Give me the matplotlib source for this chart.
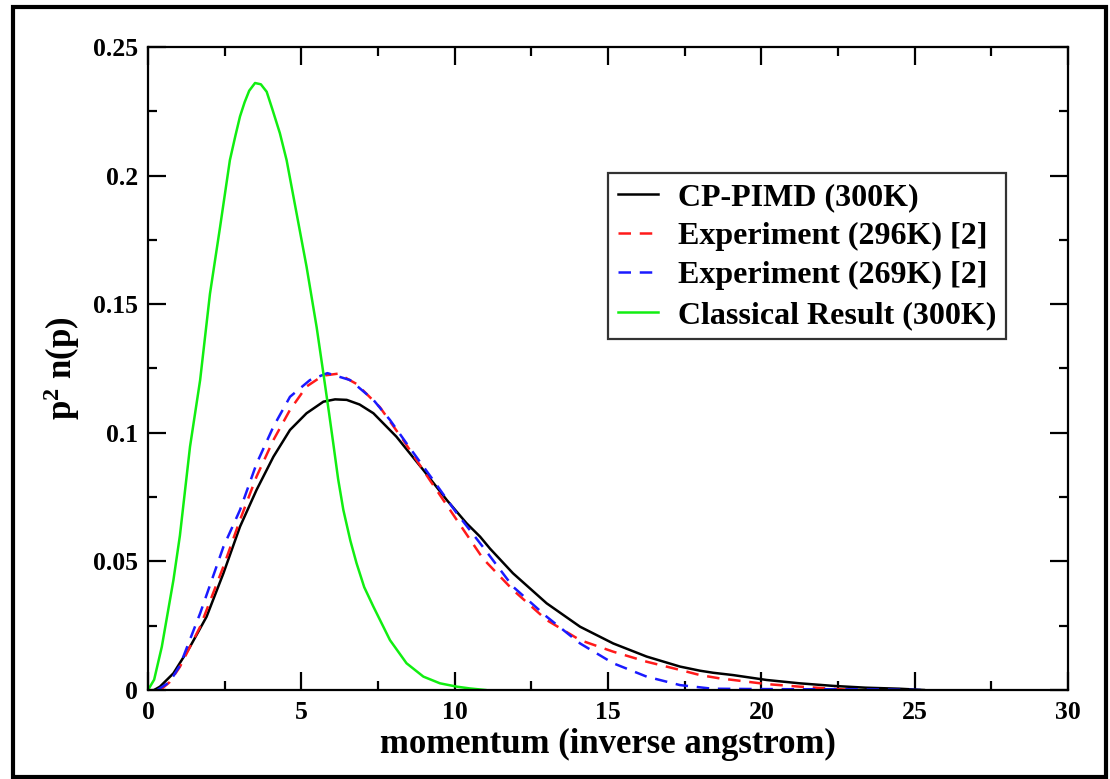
import matplotlib
matplotlib.use("Agg")
import matplotlib.pyplot as plt
from matplotlib.patches import Rectangle
from matplotlib.ticker import MultipleLocator

# ---- data ----
cp_p = [0.2, 0.39, 0.83, 1.37, 1.91, 2.46, 3.0, 3.54, 4.09, 4.63, 5.17, 5.72, 6.1, 6.48, 6.9,
        7.35, 8.1, 8.98, 9.74, 10.39, 10.83, 11.15, 11.9, 13.0, 14.09, 15.17, 16.26, 17.35,
        18.0, 18.43, 19.08, 20.17, 21.25, 22.34, 23.4, 24.5, 25.3]
cp_v = [0.0, 0.0013, 0.0065, 0.0168, 0.0285, 0.0454, 0.0635, 0.0778, 0.0907, 0.1011, 0.1076,
        0.1121, 0.1130, 0.1128, 0.1110, 0.1076, 0.0985, 0.0855, 0.0739, 0.0648, 0.0596, 0.0550,
        0.0454, 0.0337, 0.0246, 0.0181, 0.0130, 0.0091, 0.0075, 0.0067, 0.0058, 0.0039, 0.0026,
        0.0016, 0.0009, 0.0005, 0.0]

e296_p = [0.4, 0.7, 1.04, 1.70, 2.46, 3.0, 3.54, 4.09, 4.63, 5.17, 5.7, 6.2, 6.8, 7.56, 8.32,
          9.19, 10.07, 10.93, 11.9, 13.0, 14.09, 15.17, 16.26, 17.35, 18.0, 18.65, 19.08, 20.17,
          21.25, 22.3, 23.0]
e296_v = [0.0, 0.003, 0.009, 0.0246, 0.048, 0.0661, 0.083, 0.0972, 0.1089, 0.118, 0.1222, 0.1230,
          0.1190, 0.1100, 0.0972, 0.0816, 0.0661, 0.0510, 0.0389, 0.0272, 0.0194, 0.0149, 0.0110,
          0.0078, 0.0058, 0.0045, 0.0039, 0.0023, 0.0013, 0.0005, 0.0]

e269_p = [0.3, 0.7, 1.04, 1.70, 2.46, 3.0, 3.54, 4.09, 4.63, 5.28, 5.85, 6.59, 7.35, 7.89, 8.43,
          9.3, 10.07, 10.93, 11.9, 13.0, 14.09, 15.17, 16.26, 17.35, 18.4, 19.5, 21.0, 22.5,
          24.0, 25.2]
e269_v = [0.0, 0.003, 0.0095, 0.0298, 0.0557, 0.070, 0.088, 0.1024, 0.114, 0.1205, 0.1232, 0.1205,
          0.1128, 0.1050, 0.0959, 0.0816, 0.0687, 0.0555, 0.0402, 0.0285, 0.0181, 0.0104, 0.0052,
          0.0019, 0.0005, 0.0004, 0.0003, 0.0003, 0.0002, 0.0]

cl_p = [0.0, 0.2, 0.45, 0.83, 1.04, 1.37, 1.70, 2.02, 2.35, 2.67, 2.85, 3.0, 3.15, 3.3, 3.49,
        3.68, 3.87, 4.05, 4.30, 4.52, 4.85, 5.17, 5.50, 5.72, 5.9, 6.04, 6.2, 6.37, 6.6, 6.80,
        7.05, 7.35, 7.89, 8.43, 8.98, 9.52, 10.07, 10.5, 11.0]
cl_v = [0.0, 0.004, 0.0168, 0.0428, 0.060, 0.0946, 0.1205, 0.154, 0.180, 0.206, 0.2155, 0.223,
        0.2285, 0.2330, 0.2360, 0.2355, 0.2326, 0.2260, 0.2165, 0.2060, 0.1850, 0.1646, 0.1410,
        0.1230, 0.1080, 0.0960, 0.0820, 0.0700, 0.0580, 0.0493, 0.0400, 0.0324, 0.0194, 0.0104,
        0.0052, 0.0026, 0.0013, 0.0006, 0.0]

labels = ["CP-PIMD (300K)", "Experiment (296K) [2]", "Experiment (269K) [2]",
          "Classical Result (300K)"]
x_ticks = [0, 5, 10, 15, 20, 25, 30]
y_ticks = [0, 0.05, 0.1, 0.15, 0.2, 0.25]
y_tick_labels = ["0", "0.05", "0.1", "0.15", "0.2", "0.25"]

# ---- style ----
plt.rcParams['font.family'] = ['Liberation Serif', 'DejaVu Serif']
plt.rcParams['font.weight'] = 'bold'
plt.rcParams['mathtext.fontset'] = 'custom'
plt.rcParams['mathtext.rm'] = 'Liberation Serif:bold'
plt.rcParams['mathtext.bf'] = 'Liberation Serif:bold'
plt.rcParams['mathtext.it'] = 'Liberation Serif:bold'
plt.rcParams['mathtext.default'] = 'bf'

fig = plt.figure(figsize=(11.10, 7.79), dpi=100)
ax = fig.add_axes([148 / 1110, 1 - 690 / 779, (1068 - 148) / 1110, (690 - 47) / 779])

lw = 1.8
ax.plot(cp_p, cp_v, color='black', lw=lw, label=labels[0])
ax.plot(e296_p, e296_v, color='#ff1a1a', lw=lw, dashes=(5, 3.5), label=labels[1])
ax.plot(e269_p, e269_v, color='#1a1aff', lw=lw, dashes=(5, 3.5), label=labels[2])
ax.plot(cl_p, cl_v, color='#11ee11', lw=lw, label=labels[3])

ax.set_xlim(0, 30)
ax.set_ylim(0, 0.25)
ax.set_xticks(x_ticks)
ax.set_yticks(y_ticks)
ax.set_yticklabels(y_tick_labels)
ax.xaxis.set_minor_locator(MultipleLocator(2.5))
ax.yaxis.set_minor_locator(MultipleLocator(0.025))
ax.tick_params(which='both', direction='in', top=True, right=True, width=1.6,
               labelsize=18.5)
ax.tick_params(which='major', length=13)
ax.tick_params(which='minor', length=6.5)
ax.tick_params(axis='x', pad=8)
ax.tick_params(axis='y', pad=7)
for s in ax.spines.values():
    s.set_linewidth(1.6)

ax.set_xlabel("momentum (inverse angstrom)", fontsize=25, fontweight='bold', labelpad=3)
ax.set_ylabel(r"p$^{2}$ n(p)", fontsize=25, fontweight='bold', labelpad=8)

leg = ax.legend(loc='upper left', bbox_to_anchor=((608 - 148) / 920, 1 - (173 - 47) / 643),
                frameon=True, fancybox=False, edgecolor='black', fontsize=23,
                handlelength=1.25, handletextpad=0.65, borderpad=0.3, labelspacing=0.31,
                borderaxespad=0)
leg.get_frame().set_linewidth(1.6)
for t in leg.get_texts():
    t.set_fontweight('bold')

fig.patches.append(Rectangle((13 / 1110, 1 - 777 / 779), (1106 - 13) / 1110, (777 - 7) / 779,
                             transform=fig.transFigure, fill=False, edgecolor='black',
                             linewidth=3, zorder=10))

fig.savefig("out.png", dpi=100)
